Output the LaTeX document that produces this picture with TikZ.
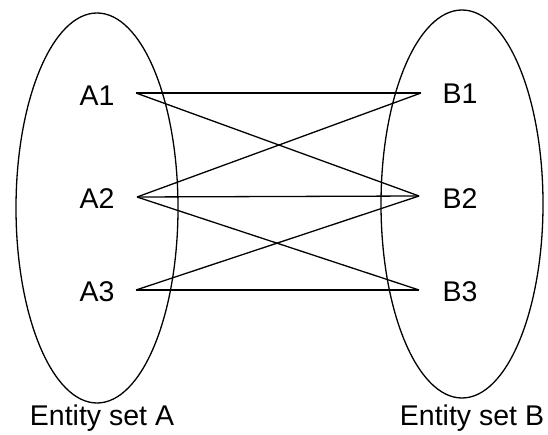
\documentclass[tikz,border=0pt]{standalone}
\usepackage{fontspec}
\setmainfont{Liberation Sans}
\begin{document}
\begin{tikzpicture}[x=1pt,y=-1pt,
  setshape/.style={draw=black,line width=1.3pt},
  lbl/.style={font=\fontsize{28.5}{32}\selectfont,inner sep=0pt,anchor=center},
  link/.style={draw=black,line width=1.3pt}]
\useasboundingbox (0,0) rectangle (548,435);
\draw[setshape] (97,208) ellipse [x radius=81, y radius=195];
\draw[setshape] (462,204) ellipse [x radius=81, y radius=194];
\node[lbl] (A1) at (97,96) {A1};
\node[lbl] (A2) at (97,199) {A2};
\node[lbl] (A3) at (97,292) {A3};
\node[lbl] (B1) at (460,94) {B1};
\node[lbl] (B2) at (460,199) {B2};
\node[lbl] (B3) at (460,292) {B3};
\node[lbl] (SA) at (102,418) {Entity set A};
\node[lbl] (SB) at (472,418) {Entity set B};
\coordinate (a1) at (136,93);
\coordinate (a2) at (137,197);
\coordinate (a3) at (136,290);
\coordinate (b1) at (421,93);
\coordinate (b2) at (419,196);
\coordinate (b3) at (419,290);
\draw[link] (a1) -- (b1);
\draw[link] (a1) -- (b2);
\draw[link] (a2) -- (b1);
\draw[link] (a2) -- (b2);
\draw[link] (a2) -- (b3);
\draw[link] (a3) -- (b2);
\draw[link] (a3) -- (b3);
\end{tikzpicture}
\end{document}
